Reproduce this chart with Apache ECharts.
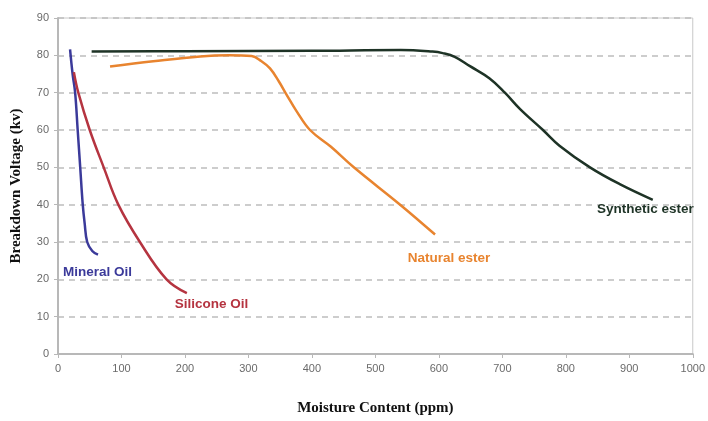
<!DOCTYPE html>
<html>
<head>
<meta charset="utf-8">
<script src="https://cdn.jsdelivr.net/npm/echarts@6/dist/echarts.min.js"></script>
<style>
  html, body { margin: 0; padding: 0; background: #fff; }
  #chart { width: 708px; height: 421px; }
</style>
</head>
<body>
<div id="chart"></div>
<script>
// values: [moisture ppm, breakdown kV]
var mineralOil = [[19, 81.6], [23, 75], [27, 70], [31, 60], [35, 50], [39, 40], [42, 35], [46, 30], [54, 27.6], [63, 26.6]];
var siliconeOil = [[25, 75.5], [32, 70], [50, 60], [72, 50], [95, 40], [129, 30], [171, 20], [203, 16.3]];
var naturalEster = [[82, 77], [150, 78.4], [224, 79.7], [270, 80], [305, 79.8], [320, 78.5], [334, 76.5], [348, 73], [360, 69.5], [376, 65], [397, 60], [430, 55.5], [466, 50], [539, 40], [594, 32]];
var syntheticEster = [[53, 81], [200, 81.1], [400, 81.2], [540, 81.4], [590, 81], [606, 80.6], [625, 79.6], [649, 77.1], [680, 73.8], [704, 70], [728, 65.6], [764, 60], [790, 55.8], [838, 50], [885, 45.5], [937, 41.3]];

var seriesNames = ['Mineral Oil', 'Silicone Oil', 'Natural ester', 'Synthetic ester'];
var seriesColors = ['#3b3a9a', '#b53440', '#e8842f', '#1e3326'];
// where each curve's text label sits, in data coords
var labelAt = [[8, 22], [184, 13.3], [551, 25.6], [849, 38.8]];

var chart = echarts.init(document.getElementById('chart'));

function curve(i, data) {
    return {
        name: seriesNames[i],
        type: 'line',
        data: data,
        smooth: 0.4,
        showSymbol: false,
        lineStyle: {color: seriesColors[i], width: 2.5},
        z: 3
    };
}

chart.setOption({
    animation: false,
    grid: {left: 58, right: 15, top: 18, bottom: 61, show: true, borderColor: '#c8c8c8', borderWidth: 1},
    xAxis: {
        type: 'value',
        min: 0, max: 1000, interval: 100,
        name: 'Moisture Content (ppm)',
        nameLocation: 'middle',
        nameGap: 47,
        nameTextStyle: {fontFamily: 'Liberation Serif', fontWeight: 'bold', fontSize: 15, color: '#111'},
        axisLine: {lineStyle: {color: '#b8b8b8', width: 2}},
        axisTick: {show: true, length: 4, lineStyle: {color: '#b8b8b8'}},
        axisLabel: {color: '#6a6a6a', fontSize: 11, fontFamily: 'Liberation Sans', margin: 9,
            formatter: function(v) { return String(v); }},
        splitLine: {show: false}
    },
    yAxis: {
        type: 'value',
        min: 0, max: 90, interval: 10,
        name: 'Breakdown Voltage (kv)',
        nameLocation: 'middle',
        nameGap: 34,
        nameTextStyle: {fontFamily: 'Liberation Serif', fontWeight: 'bold', fontSize: 15, color: '#111'},
        axisLine: {show: true, lineStyle: {color: '#b8b8b8', width: 2}},
        axisTick: {show: true, length: 4, lineStyle: {color: '#b8b8b8'}},
        axisLabel: {color: '#6a6a6a', fontSize: 11, fontFamily: 'Liberation Sans', margin: 9},
        splitLine: {show: true, lineStyle: {color: '#bdbdbd', width: 1.5, type: [6, 5]}}
    },
    series: [
        curve(0, mineralOil),
        curve(1, siliconeOil),
        curve(2, naturalEster),
        curve(3, syntheticEster)
    ]
});

var texts = [];
for (var i = 0; i < seriesNames.length; i++) {
    var p = chart.convertToPixel({gridIndex: 0}, labelAt[i]);
    texts.push({
        type: 'text',
        x: p[0], y: p[1],
        style: {
            text: seriesNames[i],
            fill: seriesColors[i],
            font: 'bold 13.5px "Liberation Sans"',
            textVerticalAlign: 'middle'
        },
        z: 10
    });
}
chart.setOption({graphic: texts});
</script>
</body>
</html>
